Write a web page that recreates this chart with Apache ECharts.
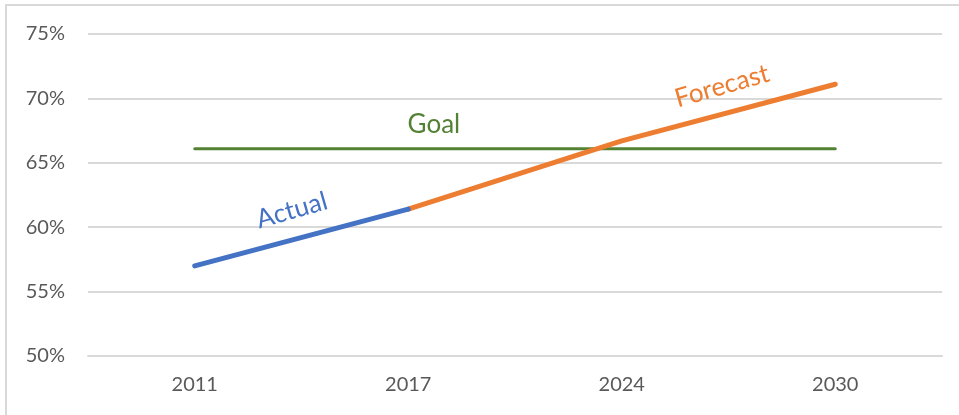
<!DOCTYPE html>
<html><head><meta charset="utf-8">
<script src="https://cdn.jsdelivr.net/npm/echarts@6/dist/echarts.min.js"></script>
<style>
html,body{margin:0;padding:0;background:#fff;}
#frame{position:absolute;left:5px;top:4px;width:960px;height:420px;border-left:2px solid #d9d9d9;border-top:2px solid #d9d9d9;box-sizing:border-box;}
#c{position:absolute;left:0;top:0;width:959px;height:415px;}
</style></head>
<body><div id="frame"></div><div id="c"></div>
<script>
const categories = ['2011', '2017', '2024', '2030'];
const actualValues = [57.0, 61.4, null, null];
const forecastValues = [null, 61.4, 66.7, 71.1];
const goalValues = [66.1, 66.1, 66.1, 66.1];
const yTicks = { min: 50, max: 75, interval: 5 };
// text annotations: [text, categoryIndex (fractional), value, color, rotation deg]
const annotations = [
  ['Actual', 0.455, 61.3, '#4472C4', 16],
  ['Goal', 1.12, 68.0, '#548235', 0],
  ['Forecast', 2.47, 70.95, '#ED7D31', 16]
];

const FONT = 'Lato, "Open Sans", sans-serif';
const chart = echarts.init(document.getElementById('c'), null, {renderer: 'canvas'});
const lineSeries = (name, data, color, width) => ({
  name, type: 'line', data, symbol: 'none', connectNulls: false,
  lineStyle: { color, width, cap: 'round', join: 'round' },
  itemStyle: { color }, z: 3
});
chart.setOption({
  animation: false,
  backgroundColor: 'transparent',
  grid: { left: 88, right: 17, top: 34, bottom: 59 },
  xAxis: {
    type: 'category', data: categories, boundaryGap: true,
    axisLine: { show: true, lineStyle: { color: '#d9d9d9', width: 2 } },
    axisTick: { show: false },
    axisLabel: { color: '#595959', fontSize: 20, fontFamily: FONT, margin: 19 }
  },
  yAxis: {
    type: 'value', min: yTicks.min, max: yTicks.max, interval: yTicks.interval,
    axisLine: { show: false }, axisTick: { show: false },
    axisLabel: { color: '#595959', fontSize: 20, fontFamily: FONT, margin: 23, formatter: '{value}%' },
    splitLine: { lineStyle: { color: '#d9d9d9', width: 2 } }
  },
  series: [
    lineSeries('Goal', goalValues, '#548235', 3),
    lineSeries('Forecast', forecastValues, '#ED7D31', 5),
    lineSeries('Actual', actualValues, '#4472C4', 5)
  ]
});

function placeLabels() {
  const p0 = chart.convertToPixel({gridIndex: 0}, [0, yTicks.min]);
  const p1 = chart.convertToPixel({gridIndex: 0}, [1, yTicks.min]);
  const step = p1[0] - p0[0];
  const graphic = annotations.map(([text, idx, val, color, rot]) => {
    const py = chart.convertToPixel({yAxisIndex: 0}, val);
    const px = p0[0] + idx * step;
    return {
      type: 'text', x: px, y: py, rotation: rot * Math.PI / 180,
      style: { text, fill: color, font: '26px ' + FONT, textAlign: 'center', textVerticalAlign: 'middle' },
      z: 10
    };
  });
  chart.setOption({ graphic });
}
placeLabels();
</script></body></html>
